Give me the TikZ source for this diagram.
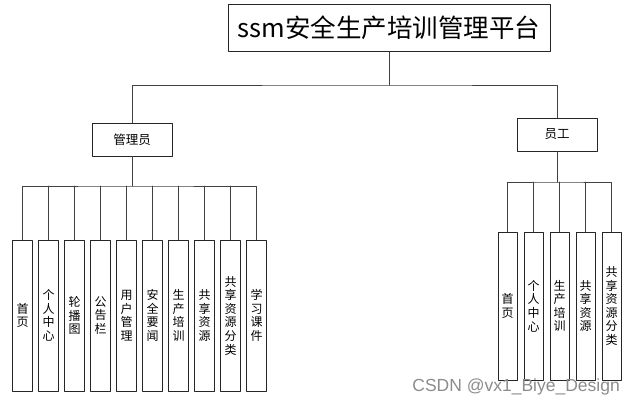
\documentclass[tikz,border=0pt]{standalone}
\usepackage{fontspec}
\setmainfont{Noto Sans CJK SC}
\newfontfamily\markfont{Liberation Sans}
\tikzset{
  box/.style={draw=black!85, line width=0.9pt, fill=white, inner sep=0pt, align=center},
  leafbox/.style={box, minimum width=19.5pt, minimum height=151pt, font=\fontsize{12}{13.6}\selectfont},
  empleaf/.style={box, minimum width=19pt, minimum height=148pt, font=\fontsize{12}{13.6}\selectfont},
  link/.style={draw=black!75, line width=0.9pt}
}
\begin{document}
\begin{tikzpicture}[x=1pt, y=-1pt, line join=round, line cap=round]
	\useasboundingbox (0,0) rectangle (635,405);
	\node[box, minimum width=322pt, minimum height=47pt, font=\fontsize{25.5}{28}\selectfont] (root) at (389,27.8) {ssm安全生产培训管理平台};
	\node[box, minimum width=80pt, minimum height=33pt, font=\fontsize{12.5}{14}\selectfont] (admin) at (132,139.5) {管理员};
	\node[box, minimum width=80pt, minimum height=33pt, font=\fontsize{12.5}{14}\selectfont] (emp) at (557,134.5) {员工};
	\coordinate (rbus) at (root.south |- 0,85);
	\coordinate (abus) at (admin.south |- 0,186);
	\coordinate (ebus) at (emp.south |- 0,182);
	\foreach \lbl [count=\i] in {{首\\页},{个\\人\\中\\心},{轮\\播\\图},{公\\告\\栏},{用\\户\\管\\理},{安\\全\\要\\闻},{生\\产\\培\\训},{共\\享\\资\\源},{共\\享\\资\\源\\分\\类},{学\\习\\课\\件}}
		\node[leafbox] (a\i) at (26*\i-3.5,315.5) {\lbl};
	\foreach \lbl [count=\i] in {{首\\页},{个\\人\\中\\心},{生\\产\\培\\训},{共\\享\\资\\源},{共\\享\\资\\源\\分\\类}}
		\node[empleaf] (e\i) at (481.5+26*\i,306) {\lbl};
	\draw[link] (root.south) -- (rbus);
	\draw[link] (admin.north) |- (rbus) -| (emp.north);
	\draw[link] (admin.south) -- (abus);
	\draw[link] (a1.north) |- (abus) -| (a10.north);
	\foreach \i in {2,...,9}
		\draw[link] (a\i.north) -- (a\i.north |- abus);
	\draw[link] (emp.south) -- (ebus);
	\draw[link] (e1.north) |- (ebus) -| (e5.north);
	\foreach \i in {2,3,4}
		\draw[link] (e\i.north) -- (e\i.north |- ebus);
	\node[font=\markfont\fontsize{17.5}{20}\selectfont, text=black!45, inner sep=0pt, anchor=south east] (mark) at (620,395) {CSDN @vx1\_Biye\_Design};
\end{tikzpicture}
\end{document}
